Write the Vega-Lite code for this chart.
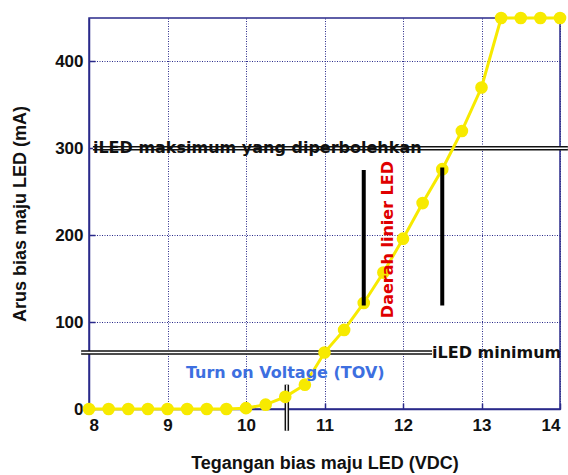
{
  "$schema": "https://vega.github.io/schema/vega-lite/v6.json",
  "width": 471,
  "height": 391,
  "autosize": {"type": "none"},
  "padding": {"left": 89, "top": 18, "right": 8, "bottom": 66},
  "background": "white",
  "config": {
    "view": {"stroke": "#2a2a8a", "strokeWidth": 1.5},
    "axis": {
      "labelFont": "Liberation Sans",
      "labelFontWeight": "bold",
      "labelFontSize": 17,
      "labelColor": "#111",
      "titleFont": "Liberation Sans",
      "titleFontWeight": "bold",
      "titleFontSize": 18,
      "titleColor": "#111",
      "domainColor": "#2a2a8a",
      "domainWidth": 1.5,
      "gridColor": "#2a2a8a",
      "gridDash": [1, 1.5],
      "gridOpacity": 1,
      "gridWidth": 1,
      "ticks": true,
      "tickSize": -6,
      "tickColor": "#2a2a8a",
      "tickWidth": 1.5
    }
  },
  "layer": [
    {
      "data": {"values": [
        {"x1": 8.05, "x2": 14.1, "y1": 300, "y2": 300},
        {"x1": 7.9, "x2": 12.37, "y1": 65, "y2": 65},
        {"x1": 10.52, "x2": 10.52, "y1": 28, "y2": -25}
      ]},
      "layer": [
        {
          "mark": {"type": "rule", "color": "#111", "strokeWidth": 4.5, "clip": false},
          "encoding": {
            "x": {"field": "x1", "type": "quantitative", "scale": {"domain": [8, 14], "nice": false, "zero": false},
                  "axis": {"values": [8, 9, 10, 11, 12, 13, 14], "format": "d", "title": "Tegangan bias maju LED (VDC)", "labelPadding": 14, "titlePadding": 21}},
            "x2": {"field": "x2"},
            "y": {"field": "y1", "type": "quantitative", "scale": {"domain": [0, 450], "nice": false},
                  "axis": {"values": [0, 100, 200, 300, 400], "title": "Arus bias maju LED (mA)", "labelPadding": 12, "titlePadding": 25}},
            "y2": {"field": "y2"}
          }
        },
        {
          "mark": {"type": "rule", "color": "white", "strokeWidth": 1.5, "clip": false},
          "encoding": {
            "x": {"field": "x1", "type": "quantitative"},
            "x2": {"field": "x2"},
            "y": {"field": "y1", "type": "quantitative"},
            "y2": {"field": "y2"}
          }
        }
      ]
    },
    {
      "data": {"values": [
        {"v": 8, "i": 0}, {"v": 8.25, "i": 0}, {"v": 8.5, "i": 0}, {"v": 8.75, "i": 0},
        {"v": 9, "i": 0}, {"v": 9.25, "i": 0}, {"v": 9.5, "i": 0}, {"v": 9.75, "i": 0},
        {"v": 10, "i": 1}, {"v": 10.25, "i": 5}, {"v": 10.5, "i": 14}, {"v": 10.75, "i": 28},
        {"v": 11, "i": 65}, {"v": 11.25, "i": 91}, {"v": 11.5, "i": 122}, {"v": 11.75, "i": 157},
        {"v": 12, "i": 196}, {"v": 12.25, "i": 237}, {"v": 12.5, "i": 276}, {"v": 12.75, "i": 320},
        {"v": 13, "i": 370}, {"v": 13.25, "i": 450}, {"v": 13.5, "i": 450}, {"v": 13.75, "i": 450},
        {"v": 14, "i": 450}
      ]},
      "layer": [
        {
          "mark": {"type": "line", "color": "#f7ea00", "strokeWidth": 3, "clip": false},
          "encoding": {
            "x": {"field": "v", "type": "quantitative"},
            "y": {"field": "i", "type": "quantitative"}
          }
        },
        {
          "mark": {"type": "circle", "color": "#f7ea00", "opacity": 1, "size": 160, "clip": false},
          "encoding": {
            "x": {"field": "v", "type": "quantitative"},
            "y": {"field": "i", "type": "quantitative"}
          }
        }
      ]
    },
    {
      "data": {"values": [
        {"x": 11.5, "y1": 119, "y2": 275},
        {"x": 12.5, "y1": 119, "y2": 278}
      ]},
      "mark": {"type": "rule", "color": "#000", "strokeWidth": 4},
      "encoding": {
        "x": {"field": "x", "type": "quantitative"},
        "y": {"field": "y1", "type": "quantitative"},
        "y2": {"field": "y2"}
      }
    },
    {
      "data": {"values": [
        {"x": 8.05, "y": 300, "t": "iLED maksimum yang diperbolehkan"},
        {"x": 12.37, "y": 65, "t": "iLED minimum"}
      ]},
      "mark": {"type": "text", "align": "left", "baseline": "middle", "font": "DejaVu Sans", "fontWeight": "bold", "fontSize": 16, "color": "#111", "clip": false},
      "encoding": {
        "x": {"field": "x", "type": "quantitative"},
        "y": {"field": "y", "type": "quantitative"},
        "text": {"field": "t"}
      }
    },
    {
      "data": {"values": [{"x": 10.5, "y": 41, "t": "Turn on Voltage (TOV)"}]},
      "mark": {"type": "text", "align": "center", "baseline": "middle", "font": "DejaVu Sans", "fontWeight": "bold", "fontSize": 16, "color": "#3d6fe0"},
      "encoding": {
        "x": {"field": "x", "type": "quantitative"},
        "y": {"field": "y", "type": "quantitative"},
        "text": {"field": "t"}
      }
    },
    {
      "data": {"values": [{"x": 11.81, "y": 195, "t": "Daerah linier LED"}]},
      "mark": {"type": "text", "align": "center", "baseline": "middle", "angle": 270, "font": "DejaVu Sans", "fontWeight": "bold", "fontSize": 16, "color": "#e00000"},
      "encoding": {
        "x": {"field": "x", "type": "quantitative"},
        "y": {"field": "y", "type": "quantitative"},
        "text": {"field": "t"}
      }
    }
  ]
}
